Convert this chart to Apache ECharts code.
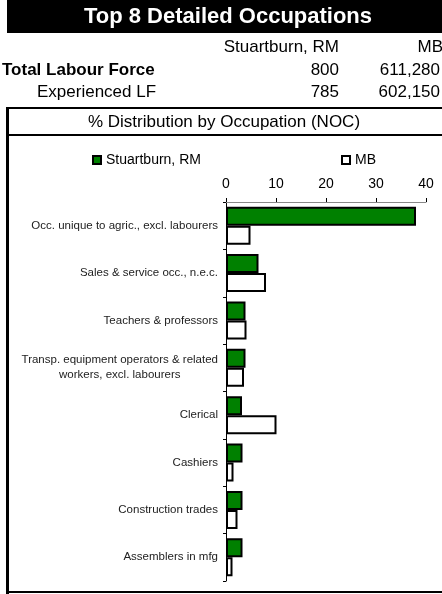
<!DOCTYPE html>
<html>
<head>
<meta charset="utf-8">
<script src="https://cdn.jsdelivr.net/npm/echarts@6/dist/echarts.min.js"></script>
<style>
  html, body { margin: 0; padding: 0; background: #fff; }
  #chart { width: 442px; height: 594px; }
</style>
</head>
<body>
<div id="chart"></div>
<script>
  // table at the top
  const title = 'Top 8 Detailed Occupations';
  const places = ['Stuartburn, RM', 'MB'];
  const totalLabourForce = ['800', '611,280'];
  const experiencedLF = ['785', '602,150'];
  const subTitle = '% Distribution by Occupation (NOC)';

  // chart data
  const categories = [
    'Occ. unique to agric., excl. labourers',
    'Sales & service occ., n.e.c.',
    'Teachers & professors',
    'Transp. equipment operators & related\nworkers, excl. labourers',
    'Clerical',
    'Cashiers',
    'Construction trades',
    'Assemblers in mfg'
  ];
  const stuartburn = [38.0, 6.5, 3.9, 3.9, 3.2, 3.3, 3.3, 3.3];
  const mb = [4.9, 8.0, 4.1, 3.6, 10.1, 1.5, 2.3, 1.3];
  const xTicks = [0, 10, 20, 30, 40];

  const font = '"Liberation Sans", Arial, sans-serif';
  const myChart = echarts.init(document.getElementById('chart'));

  const txt = (x, y, text, align, size, weight, color) => ({
    type: 'text', x, y, silent: true,
    style: {
      text, align, verticalAlign: 'middle', fill: color || '#000',
      font: (weight || 'normal') + ' ' + size + 'px ' + font
    }
  });
  const line = (x1, y1, x2, y2, w) => ({
    type: 'line', silent: true,
    shape: {x1, y1, x2, y2},
    style: {stroke: '#000', lineWidth: w}
  });

  const legendBase = {
    padding: 0, icon: 'rect', itemWidth: 8, itemHeight: 8,
    textStyle: {fontSize: 14, color: '#000', fontFamily: font}
  };

  myChart.setOption({
    animation: false,
    textStyle: {fontFamily: font},
    graphic: [
      {type: 'rect', silent: true, shape: {x: 7, y: 0, width: 435, height: 33}, style: {fill: '#000'}},
      txt(228, 17, title, 'center', 22, 'bold', '#fff'),
      txt(339, 47, places[0], 'right', 17),
      txt(443, 47, places[1], 'right', 17),
      txt(2, 70, 'Total Labour Force', 'left', 17, 'bold'),
      txt(339, 70, totalLabourForce[0], 'right', 17),
      txt(440, 70, totalLabourForce[1], 'right', 17),
      txt(37, 92, 'Experienced LF', 'left', 17),
      txt(339, 92, experiencedLF[0], 'right', 17),
      txt(440, 92, experiencedLF[1], 'right', 17),
      line(7, 108, 442, 108, 2),
      txt(224, 122, subTitle, 'center', 17),
      line(7, 135, 442, 135, 2),
      line(7.5, 107, 7.5, 594, 3),
      line(7, 592, 442, 592, 2)
    ],
    legend: [
      {...legendBase, data: [places[0]], left: 92, top: 153},
      {...legendBase, data: [places[1]], left: 341, top: 153}
    ],
    grid: {left: 226, right: 16, top: 202, bottom: 13, containLabel: false},
    xAxis: {
      type: 'value', position: 'top',
      min: xTicks[0], max: xTicks[xTicks.length - 1], interval: xTicks[1] - xTicks[0],
      axisLine: {show: true, lineStyle: {color: '#888', width: 1}},
      axisTick: {show: true, length: 4, lineStyle: {color: '#000'}},
      axisLabel: {fontSize: 14, color: '#000', margin: 11, fontFamily: font},
      splitLine: {show: false}
    },
    yAxis: {
      type: 'category', inverse: true, data: categories,
      axisLine: {show: true, lineStyle: {color: '#000', width: 1}},
      axisTick: {show: true, length: 3, lineStyle: {color: '#000'}},
      axisLabel: {
        margin: 8, color: '#222', fontSize: 11.5, lineHeight: 15, fontFamily: font,
        formatter: v => v.split('\n').map(s => '{c|' + s + '}').join('\n'),
        rich: {c: {align: 'center', fontSize: 11.5, lineHeight: 15, color: '#222', fontFamily: font}}
      }
    },
    series: [
      {name: places[0], data: stuartburn},
      {name: places[1], data: mb}
    ].map((obj, i) => ({
      ...obj,
      type: 'bar',
      barGap: '0%',
      barCategoryGap: '20%',
      itemStyle: {color: i === 0 ? '#008000' : '#fff', borderColor: '#000', borderWidth: 2}
    }))
  });
</script>
</body>
</html>
